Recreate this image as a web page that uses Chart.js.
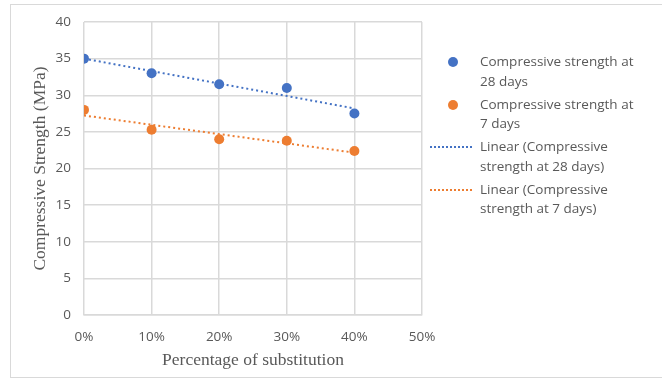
<!DOCTYPE html>
<html>
<head>
<meta charset="utf-8">
<script src="https://cdn.jsdelivr.net/npm/chart.js@4/dist/chart.umd.min.js"></script>
<style>
  html, body { margin: 0; padding: 0; background: #fff; }
  #wrap { position: relative; width: 662px; height: 380px; overflow: hidden; }
  #frame { position: absolute; left: 10px; top: 4px; width: 680px; height: 374px; border: 1.5px solid #d9d9d9; box-sizing: border-box; }
  canvas { position: absolute; left: 0; top: 0; }
  #legend { position: absolute; left: 428px; top: 52px; font-family: "Open Sans", sans-serif; font-size: 13.5px; color: #595959; line-height: 19.5px; }
  .item { position: relative; padding-left: 52px; margin-bottom: 3.5px; white-space: nowrap; }
  .dot { position: absolute; left: 20px; top: 5px; width: 10px; height: 10px; border-radius: 50%; }
  .ln { position: absolute; left: 2px; top: 9px; width: 42px; height: 0; border-top: 2px dotted; }
</style>
</head>
<body>
<div id="wrap">
  <div id="frame"></div>
  <canvas id="c" width="662" height="380"></canvas>
  <div id="legend"></div>
</div>
<script>
const substitution = [0, 10, 20, 30, 40];
const strength28 = [35, 33, 31.5, 31, 27.5];
const strength7 = [28, 25.3, 24, 23.8, 22.4];
const trend28 = [35.0, 28.2];   // read at 0% and 40%
const trend7 = [27.24, 22.16];  // read at 0% and 40%
const trendX = [0, 40];
const xTicks = [0, 10, 20, 30, 40, 50];
const yTicks = [0, 5, 10, 15, 20, 25, 30, 35, 40];

const seriesNames = ['Compressive strength at\n28 days', 'Compressive strength at\n7 days',
  'Linear (Compressive\nstrength at 28 days)', 'Linear (Compressive\nstrength at 7 days)'];
const BLUE = '#4472C4', ORANGE = '#ED7D31';

const pts = (xs, ys) => xs.map((x, i) => ({x: x, y: ys[i]}));

new Chart(document.getElementById('c'), {
  type: 'scatter',
  data: {
    datasets: [
      { label: seriesNames[2], data: pts(trendX, trend28), showLine: true, borderColor: BLUE, borderWidth: 2, borderDash: [2, 3], pointRadius: 0, order: 3 },
      { label: seriesNames[3], data: pts(trendX, trend7), showLine: true, borderColor: ORANGE, borderWidth: 2, borderDash: [2, 3], pointRadius: 0, order: 4 },
      { label: seriesNames[0], data: pts(substitution, strength28), backgroundColor: BLUE, borderColor: BLUE, pointRadius: 5, pointBorderWidth: 0, order: 1 },
      { label: seriesNames[1], data: pts(substitution, strength7), backgroundColor: ORANGE, borderColor: ORANGE, pointRadius: 5, pointBorderWidth: 0, order: 2 }
    ]
  },
  options: {
    responsive: false,
    animation: false,
    layout: { padding: { left: 11, right: 240, top: 22, bottom: 0 } },
    plugins: { legend: { display: false }, tooltip: { enabled: false } },
    scales: {
      x: {
        type: 'linear', min: 0, max: 50,
        afterBuildTicks: s => { s.ticks = xTicks.map(v => ({value: v})); },
        afterFit: s => { s.height = 65; },
        grid: { color: '#d9d9d9', lineWidth: 1.5, drawTicks: false },
        border: { color: '#d9d9d9', width: 1.5 },
        ticks: { padding: 14, color: '#595959', font: { family: 'Open Sans', size: 13.5 }, callback: v => v + '%' },
        title: { display: true, text: 'Percentage of substitution', color: '#595959', font: { family: 'Liberation Serif', size: 17.5 }, padding: { top: 4, bottom: 9 } }
      },
      y: {
        min: 0, max: 40,
        afterBuildTicks: s => { s.ticks = yTicks.map(v => ({value: v})); },
        afterFit: s => { s.width = 73; },
        grid: { color: '#d9d9d9', lineWidth: 1.5, drawTicks: false },
        border: { display: false },
        ticks: { padding: 13, color: '#595959', font: { family: 'Open Sans', size: 13.5 } },
        title: { display: true, text: 'Compressive Strength (MPa)', color: '#595959', font: { family: 'Liberation Serif', size: 17.5 }, padding: { top: 19, bottom: 4 } }
      }
    }
  }
});

const legend = document.getElementById('legend');
const legendStyles = [['dot', BLUE], ['dot', ORANGE], ['ln', BLUE], ['ln', ORANGE]];
seriesNames.forEach((name, i) => {
  const item = document.createElement('div');
  item.className = 'item';
  const m = document.createElement('span');
  m.className = legendStyles[i][0];
  if (legendStyles[i][0] === 'dot') m.style.background = legendStyles[i][1];
  else m.style.borderColor = legendStyles[i][1];
  item.appendChild(m);
  name.split('\n').forEach(t => { const d = document.createElement('div'); d.textContent = t; item.appendChild(d); });
  legend.appendChild(item);
});
</script>
</body>
</html>
